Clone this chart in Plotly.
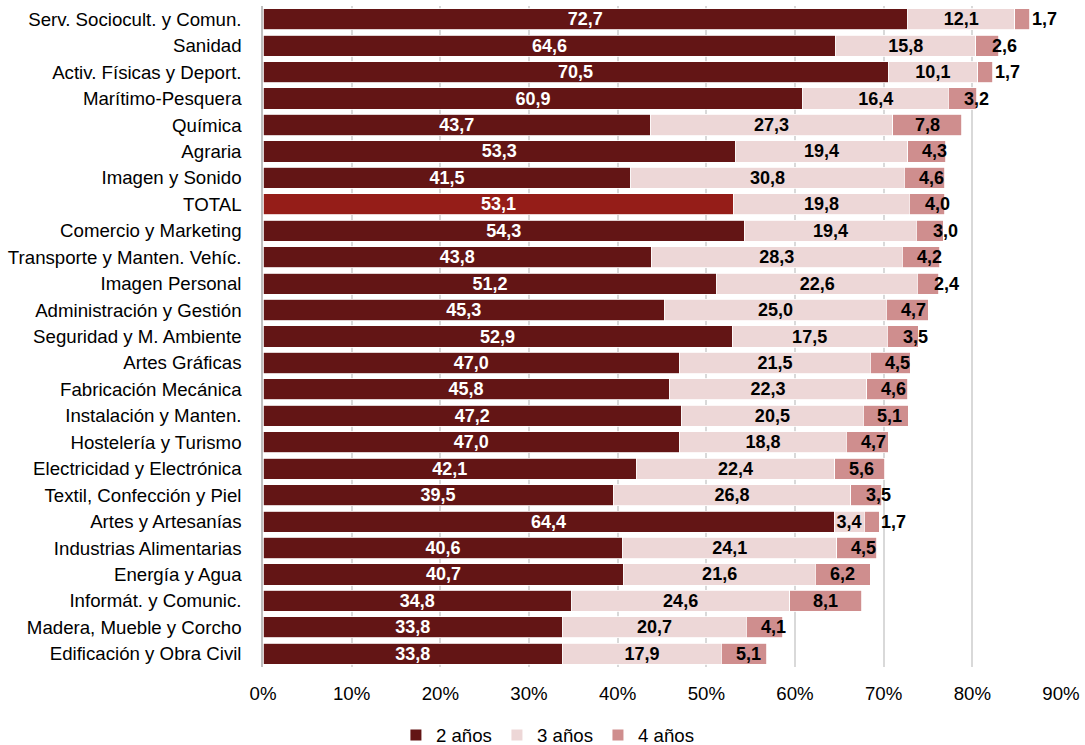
import plotly.graph_objects as go

# Familias profesionales (de arriba abajo) y porcentaje por duración
familias = [
    "Serv. Sociocult. y Comun.", "Sanidad", "Activ. Físicas y Deport.",
    "Marítimo-Pesquera", "Química", "Agraria", "Imagen y Sonido", "TOTAL",
    "Comercio y Marketing", "Transporte y Manten. Vehíc.", "Imagen Personal",
    "Administración y Gestión", "Seguridad y M. Ambiente", "Artes Gráficas",
    "Fabricación Mecánica", "Instalación y Manten.", "Hostelería y Turismo",
    "Electricidad y Electrónica", "Textil, Confección y Piel",
    "Artes y Artesanías", "Industrias Alimentarias", "Energía y Agua",
    "Informát. y Comunic.", "Madera, Mueble y Corcho",
    "Edificación y Obra Civil",
]
dos_anos = [72.7, 64.6, 70.5, 60.9, 43.7, 53.3, 41.5, 53.1, 54.3, 43.8, 51.2,
            45.3, 52.9, 47.0, 45.8, 47.2, 47.0, 42.1, 39.5, 64.4, 40.6, 40.7,
            34.8, 33.8, 33.8]
tres_anos = [12.1, 15.8, 10.1, 16.4, 27.3, 19.4, 30.8, 19.8, 19.4, 28.3, 22.6,
             25.0, 17.5, 21.5, 22.3, 20.5, 18.8, 22.4, 26.8, 3.4, 24.1, 21.6,
             24.6, 20.7, 17.9]
cuatro_anos = [1.7, 2.6, 1.7, 3.2, 7.8, 4.3, 4.6, 4.0, 3.0, 4.2, 2.4, 4.7, 3.5,
               4.5, 4.6, 5.1, 4.7, 5.6, 3.5, 1.7, 4.5, 6.2, 8.1, 4.1, 5.1]
series = ["2 años", "3 años", "4 años"]
x_ticks = [0, 10, 20, 30, 40, 50, 60, 70, 80, 90]
x_tick_labels = [f"{v}%" for v in x_ticks]

C_DOS = "#631515"
C_TOTAL = "#951D18"
C_TRES = "#EDD7D7"
C_CUATRO = "#CF8E8E"
FONT = "Liberation Sans, Arial, sans-serif"
TXT = 18.67
VAL = 18

colores_dos = [C_TOTAL if f == "TOTAL" else C_DOS for f in familias]

fig = go.Figure()
fig.add_trace(go.Bar(
    y=familias, x=dos_anos, name=series[0], orientation="h", showlegend=False,
    marker=dict(color=colores_dos, line=dict(color="white", width=0.8)),
    text=dos_anos, texttemplate="%{x:.1f}", textposition="inside",
    insidetextanchor="middle", constraintext="none",
    textfont=dict(color="white", size=VAL, family=FONT, weight="bold"),
))
fig.add_trace(go.Bar(
    y=familias, x=tres_anos, name=series[1], orientation="h", showlegend=False,
    marker=dict(color=C_TRES, line=dict(color="white", width=0.8)),
    text=tres_anos, texttemplate="%{x:.1f}", textposition="inside",
    insidetextanchor="middle", constraintext="none",
    textfont=dict(color="black", size=VAL, family=FONT, weight="bold"),
))
fig.add_trace(go.Bar(
    y=familias, x=cuatro_anos, name=series[2], orientation="h", showlegend=False,
    marker=dict(color=C_CUATRO, line=dict(color="white", width=0.8)),
    hoverinfo="x+y",
))

# Entradas de leyenda con marcador cuadrado pequeño
for nombre, color in zip(series, [C_DOS, C_TRES, C_CUATRO]):
    fig.add_trace(go.Scatter(
        x=[None], y=[None], mode="markers", name=nombre,
        marker=dict(symbol="square", size=11, color=color),
    ))

# Etiquetas de 4 años: centradas en el tramo, desplazadas a la derecha si es estrecho
px_por_punto = 798 / 90
for f, a, b, c in zip(familias, dos_anos, tres_anos, cuatro_anos):
    centro = a + b + c / 2
    ancho_px = c * px_por_punto
    desplaz = max(0.0, 0.6 * (52 - ancho_px))
    fig.add_annotation(
        x=centro, y=f, text=f"{c:.1f}".replace(".", ","), showarrow=False,
        xshift=desplaz, xanchor="center", yanchor="middle",
        font=dict(color="black", size=VAL, family=FONT, weight="bold"),
    )

fig.update_layout(
    barmode="stack",
    bargap=0.2,
    separators=",.",
    width=1085, height=745,
    margin=dict(l=263, r=24, t=6, b=78),
    plot_bgcolor="white", paper_bgcolor="white",
    font=dict(family=FONT, size=TXT, color="black"),
    legend=dict(
        orientation="h", xref="container", yref="container",
        x=0.505, xanchor="center", y=0.013, yanchor="middle",
        font=dict(size=TXT, family=FONT), traceorder="normal",
        itemwidth=30, tracegroupgap=0,
    ),
)
fig.update_xaxes(
    range=[0, 90], tickmode="array", tickvals=x_ticks, ticktext=x_tick_labels,
    showgrid=True, gridcolor="#D9D9D9", gridwidth=1.5,
    zeroline=False, showline=False,
    ticks="outside", ticklen=10, tickcolor="rgba(0,0,0,0)",
    tickfont=dict(size=TXT, family=FONT),
)
fig.update_yaxes(
    autorange="reversed", showline=True, linecolor="#BFBFBF", linewidth=1.5,
    showgrid=False, ticks="", ticklabelstandoff=16,
    tickfont=dict(size=TXT, family=FONT),
)

fig.write_html("out.html")
